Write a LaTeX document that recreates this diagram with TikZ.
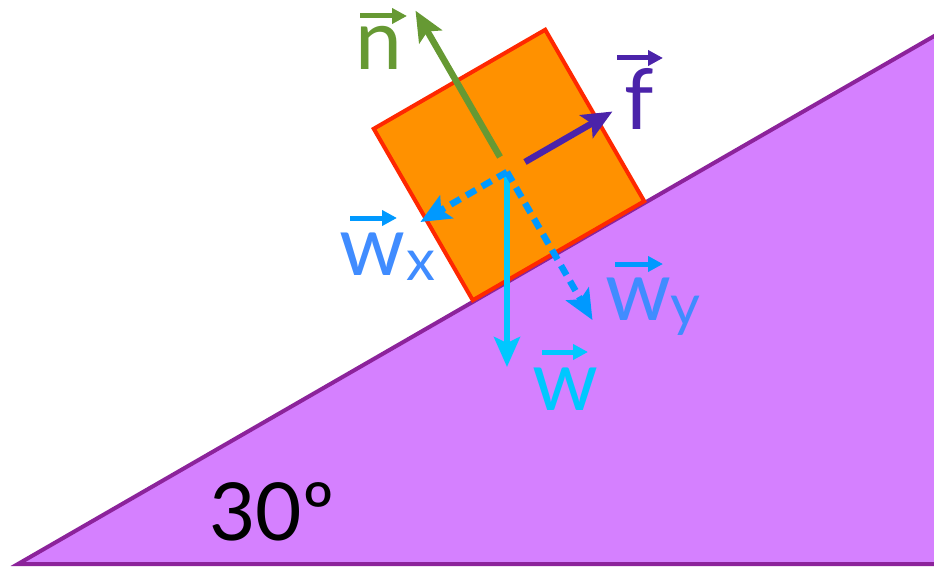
\documentclass[tikz,border=0pt]{standalone}
\usepackage{fontspec}
\setmainfont{Lato}
\usetikzlibrary{arrows.meta, calc}

\definecolor{rampfill}{RGB}{213,128,255}
\definecolor{rampline}{RGB}{140,35,155}
\definecolor{blockfill}{RGB}{255,145,0}
\definecolor{blockline}{RGB}{255,40,0}
\definecolor{ncol}{RGB}{102,153,51}
\definecolor{fcol}{RGB}{75,35,170}
\definecolor{wcol}{RGB}{0,200,255}
\definecolor{compcol}{RGB}{0,153,255}
\definecolor{complbl}{RGB}{64,140,255}

\begin{document}
\begin{tikzpicture}[
        x=1pt, y=1pt,
        ramp/.style={fill=rampfill, draw=rampline, line width=4pt},
        block/.style={rectangle, draw=blockline, fill=blockfill, line width=4pt, minimum size=198pt, inner sep=0pt, rotate=30},
        force/.style={line width=6.5pt, -{Stealth[length=30pt, width=26pt, inset=6pt]}},
        comp/.style={force, color=compcol, dash pattern=on 11pt off 7pt},
        lbl/.style={font=\fontsize{84}{84}\selectfont, anchor=base, inner sep=0pt},
        sublbl/.style={font=\fontsize{58}{58}\selectfont, anchor=base, inner sep=0pt},
        overvec/.style={line width=5pt, -{Triangle[length=15pt, width=15pt]}}
    ]
    \useasboundingbox (0,0) rectangle (934,566);

    % Incline and block
    \draw[ramp] (18,2) -- (936,531) -- (936,2) -- cycle;
    \node[block] (box) at (509,401) {};

    % Force points
    \coordinate (c) at (507,394);
    \coordinate (nstart) at (500,409);
    \coordinate (ntip) at ($(nstart)+(120:169)$);
    \coordinate (fstart) at (525,404);
    \coordinate (ftip) at ($(fstart)+(30:101)$);
    \coordinate (wtip) at ($(c)+(0,-195)$);
    \coordinate (wxtip) at ($(c)+(210:100)$);
    \coordinate (wytip) at ($(c)+(-60:171)$);

    % Forces
    \draw[force, ncol] (nstart) -- (ntip);
    \draw[force, fcol] (fstart) -- (ftip);
    \draw[force, wcol, line width=5.5pt] (c) -- (wtip);
    \draw[comp] (c) -- (wxtip);
    \draw[comp] (c) -- (wytip);

    % Labels
    \node[lbl, ncol] (nlbl) at (379,496) {n};
    \node[lbl, fcol] (flbl) at (639,436) {f};
    \node[lbl, complbl] (wxlbl) at (372,291) {w};
    \node[sublbl, complbl] (xlbl) at (421,286) {x};
    \node[lbl, complbl] (wylbl) at (638,246) {w};
    \node[sublbl, complbl] (ylbl) at (685,241) {y};
    \node[lbl, wcol] (wlbl) at (565,156) {w};
    \node[font=\fontsize{80}{80}\selectfont, anchor=base, inner sep=0pt] (angle) at (272,26) {30º};

    % Vector arrows over labels
    \draw[overvec, ncol] ($(nlbl.base)+(-19,54)$) -- ($(nlbl.base)+(28,54)$);
    \draw[overvec, fcol] ($(flbl.base)+(-22,72)$) -- ($(flbl.base)+(24,72)$);
    \draw[overvec, compcol] ($(wxlbl.base)+(-22,57)$) -- ($(wxlbl.base)+(25,57)$);
    \draw[overvec, compcol] ($(wylbl.base)+(-23,56)$) -- ($(wylbl.base)+(25,56)$);
    \draw[overvec, wcol] ($(wlbl.base)+(-23,58)$) -- ($(wlbl.base)+(23,58)$);
\end{tikzpicture}
\end{document}
